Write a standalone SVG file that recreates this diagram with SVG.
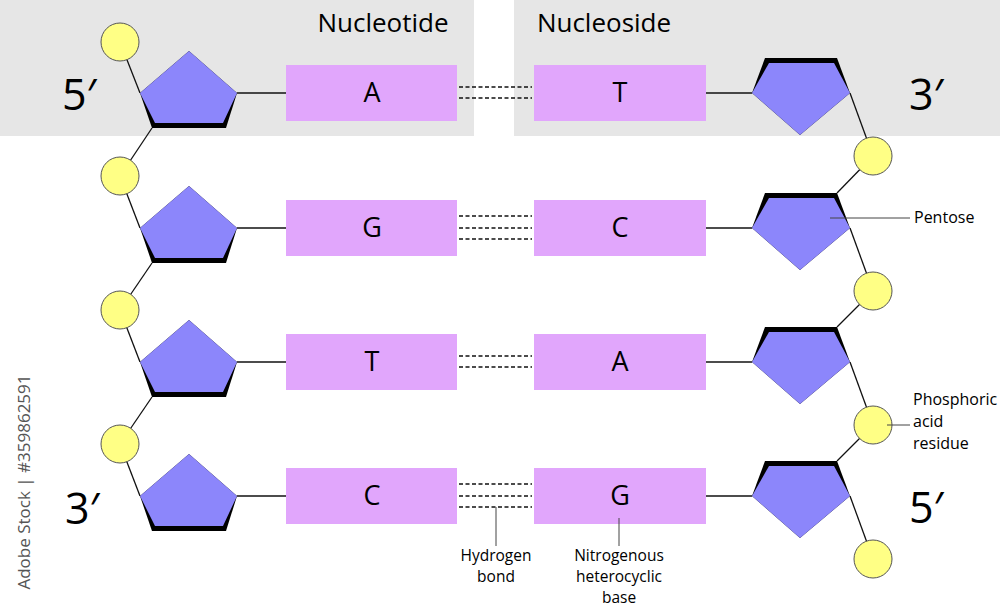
<svg xmlns="http://www.w3.org/2000/svg" width="1000" height="608" viewBox="0 0 1000 608">
<style>
.bg{fill:#e6e6e6}
.pent{fill:#8c86fb}
.shadow{fill:#000}
.base{fill:#e1a6fc}
.phos{fill:#ffff85;stroke:#555;stroke-width:1}
.bond{stroke:#111;stroke-width:1.3;fill:none}
.hb{stroke:#111;stroke-width:1.3;stroke-dasharray:4 2.5}
.lead{stroke:#444;stroke-width:1}
text{font-family:"Open Sans","Noto Sans","Liberation Sans",sans-serif;fill:#000}
.title{font-size:26px;text-anchor:middle}
.letter{font-size:27px;text-anchor:middle}
.end{font-size:43px}
.lbl{font-size:16px}
.sm{font-size:15.5px}
.mid{text-anchor:middle}
.wm{font-size:17px;fill:#555;text-anchor:middle}
</style>
<g id="background">
<rect class="bg" x="0" y="0" width="474" height="136"/>
<rect class="bg" x="514" y="0" width="486" height="136"/>
</g>
<g id="headers">
<text class="title" x="383" y="32">Nucleotide</text>
<text class="title" x="604" y="32">Nucleoside</text>
<text class="end" x="62" y="110">5′</text>
<text class="end" x="909" y="110">3′</text>
<text class="end" x="65" y="524">3′</text>
<text class="end" x="909" y="523">5′</text>
</g>
<g id="connectors">
<line class="bond" x1="120" y1="42" x2="140" y2="93"/>
<line class="bond" x1="152" y1="128" x2="120" y2="176"/>
<line class="bond" x1="120" y1="176" x2="140" y2="228"/>
<line class="bond" x1="152" y1="263" x2="120" y2="310"/>
<line class="bond" x1="120" y1="310" x2="140" y2="362"/>
<line class="bond" x1="152" y1="397" x2="120" y2="444"/>
<line class="bond" x1="120" y1="444" x2="140" y2="496"/>
<line class="bond" x1="850" y1="93" x2="873" y2="156"/>
<line class="bond" x1="873" y1="156" x2="837" y2="193"/>
<line class="bond" x1="850" y1="228" x2="873" y2="291"/>
<line class="bond" x1="873" y1="291" x2="837" y2="327"/>
<line class="bond" x1="850" y1="362" x2="873" y2="425"/>
<line class="bond" x1="873" y1="425" x2="837" y2="461"/>
<line class="bond" x1="850" y1="496" x2="873" y2="559"/>
<line class="bond" x1="237" y1="93" x2="286" y2="93"/>
<line class="bond" x1="237" y1="228" x2="286" y2="228"/>
<line class="bond" x1="237" y1="362" x2="286" y2="362"/>
<line class="bond" x1="237" y1="496" x2="286" y2="496"/>
<line class="bond" x1="706" y1="93" x2="752" y2="93"/>
<line class="bond" x1="706" y1="228" x2="752" y2="228"/>
<line class="bond" x1="706" y1="362" x2="752" y2="362"/>
<line class="bond" x1="706" y1="496" x2="752" y2="496"/>
<line class="hb" x1="459" y1="87" x2="532" y2="87"/>
<line class="hb" x1="459" y1="98" x2="532" y2="98"/>
<line class="hb" x1="459" y1="216" x2="532" y2="216"/>
<line class="hb" x1="459" y1="228" x2="532" y2="228"/>
<line class="hb" x1="459" y1="239" x2="532" y2="239"/>
<line class="hb" x1="459" y1="356" x2="532" y2="356"/>
<line class="hb" x1="459" y1="367" x2="532" y2="367"/>
<line class="hb" x1="459" y1="484" x2="532" y2="484"/>
<line class="hb" x1="459" y1="496" x2="532" y2="496"/>
<line class="hb" x1="459" y1="507" x2="532" y2="507"/>
</g>
<g id="phosphates">
<circle class="phos" cx="120" cy="42" r="19"/>
<circle class="phos" cx="120" cy="176" r="19"/>
<circle class="phos" cx="120" cy="310" r="19"/>
<circle class="phos" cx="120" cy="444" r="19"/>
<circle class="phos" cx="873" cy="156" r="19"/>
<circle class="phos" cx="873" cy="291" r="19"/>
<circle class="phos" cx="873" cy="425" r="19"/>
<circle class="phos" cx="873" cy="559" r="19"/>
</g>
<g id="sugar-left-1"><polygon class="shadow" points="189,51 237,93 226,128 152,128 140,93"/><polygon class="pent" points="189,51 237,93 223,123 155,123 140,93"/></g>
<g id="sugar-left-2"><polygon class="shadow" points="189,186 237,228 226,263 152,263 140,228"/><polygon class="pent" points="189,186 237,228 223,258 155,258 140,228"/></g>
<g id="sugar-left-3"><polygon class="shadow" points="189,320 237,362 226,397 152,397 140,362"/><polygon class="pent" points="189,320 237,362 223,392 155,392 140,362"/></g>
<g id="sugar-left-4"><polygon class="shadow" points="189,454 237,496 226,531 152,531 140,496"/><polygon class="pent" points="189,454 237,496 223,526 155,526 140,496"/></g>
<g id="sugar-right-1"><polygon class="shadow" points="752,93 765,58 837,58 850,93 800,135"/><polygon class="pent" points="752,93 769,63 834,63 850,93 800,135"/></g>
<g id="sugar-right-2"><polygon class="shadow" points="752,228 765,193 837,193 850,228 800,270"/><polygon class="pent" points="752,228 769,198 834,198 850,228 800,270"/></g>
<g id="sugar-right-3"><polygon class="shadow" points="752,362 765,327 837,327 850,362 800,404"/><polygon class="pent" points="752,362 769,332 834,332 850,362 800,404"/></g>
<g id="sugar-right-4"><polygon class="shadow" points="752,496 765,461 837,461 850,496 800,538"/><polygon class="pent" points="752,496 769,466 834,466 850,496 800,538"/></g>
<g id="base-left-1"><rect class="base" x="286" y="65" width="171" height="56"/><text class="letter" x="372" y="102">A</text></g>
<g id="base-right-1"><rect class="base" x="534" y="65" width="172" height="56"/><text class="letter" x="620" y="102">T</text></g>
<g id="base-left-2"><rect class="base" x="286" y="200" width="171" height="56"/><text class="letter" x="372" y="237">G</text></g>
<g id="base-right-2"><rect class="base" x="534" y="200" width="172" height="56"/><text class="letter" x="620" y="237">C</text></g>
<g id="base-left-3"><rect class="base" x="286" y="334" width="171" height="56"/><text class="letter" x="372" y="371">T</text></g>
<g id="base-right-3"><rect class="base" x="534" y="334" width="172" height="56"/><text class="letter" x="620" y="371">A</text></g>
<g id="base-left-4"><rect class="base" x="286" y="468" width="171" height="56"/><text class="letter" x="372" y="505">C</text></g>
<g id="base-right-4"><rect class="base" x="534" y="468" width="172" height="56"/><text class="letter" x="620" y="505">G</text></g>
<g id="labels">
<line class="lead" x1="830" y1="218" x2="910" y2="218"/>
<text class="lbl" x="914" y="223">Pentose</text>
<line class="lead" x1="887" y1="425" x2="910" y2="425"/>
<text class="lbl" x="913" y="405">Phosphoric</text>
<text class="lbl" x="913" y="427">acid</text>
<text class="lbl" x="913" y="449">residue</text>
<line class="lead" x1="496" y1="507" x2="496" y2="546"/>
<text class="sm mid" x="496" y="561">Hydrogen</text>
<text class="sm mid" x="496" y="582">bond</text>
<line class="lead" x1="619" y1="518" x2="619" y2="546"/>
<text class="sm mid" x="619" y="561">Nitrogenous</text>
<text class="sm mid" x="619" y="582">heterocyclic</text>
<text class="sm mid" x="619" y="603">base</text>
<text class="wm" transform="translate(30,482) rotate(-90)">Adobe Stock | #359862591</text>
</g>
</svg>
